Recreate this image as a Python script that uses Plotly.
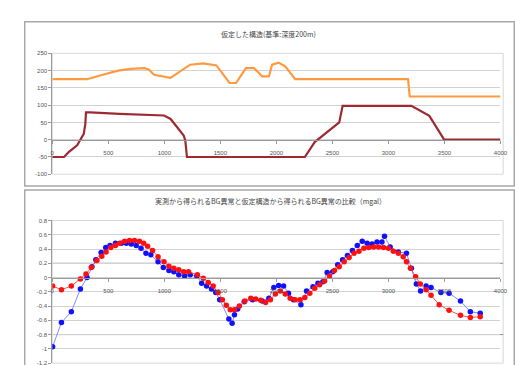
import plotly.graph_objects as go

W, H = 528, 365

# ---------------- top chart data (assumed structure) ----------------
upper_x = [0, 310, 450, 588, 700, 822, 860, 909, 1055, 1150, 1231, 1348, 1465, 1582, 1640,
           1728, 1801, 1874, 1933, 1962, 2020, 2079, 2167, 3175, 3190, 4000]
upper_y = [175, 175, 188, 200, 205, 207, 203, 188, 179, 200, 217, 221, 215, 164, 164,
           207, 207, 183, 183, 217, 223, 212, 175, 175, 125, 125]

lower_x = [0, 105, 149, 222, 281, 295, 301, 339, 600, 997, 1056, 1173, 1187, 1202,
           2254, 2342, 2561, 2591, 3205, 3365, 3497, 4000]
lower_y = [-50, -50, -35, -16, 17, 46, 79, 79, 75, 70, 60, 12, -2, -50,
           -50, -7, 50, 98, 98, 69, 0, 0]

top_yticks = [250, 200, 150, 100, 50, 0, -50, -100]
top_ylabels = ["250", "200", "150", "100", "50", "0", "-50", "-100"]
xticks = [0, 500, 1000, 1500, 2000, 2500, 3000, 3500, 4000]
xlabels = ["0", "500", "1000", "1500", "2000", "2500", "3000", "3500", "4000"]

# ---------------- bottom chart data (BG anomaly comparison) ----------------
obs_x = [3, 82, 170, 251, 310, 354, 389, 436, 477, 515, 564, 617, 661, 705, 749, 792, 836,
         880, 944, 991, 1041, 1085, 1129, 1181, 1231, 1290, 1333, 1377, 1421, 1459, 1494,
         1576, 1605, 1626, 1655, 1713, 1787, 1874, 1933, 1977, 2020, 2064, 2108, 2152,
         2219, 2269, 2327, 2371, 2415, 2453, 2503, 2547, 2591, 2634, 2678, 2722, 2766,
         2810, 2854, 2898, 2942, 2965, 3015, 3088, 3161, 3205, 3249, 3287, 3336, 3380,
         3468, 3541, 3643, 3731, 3819]
obs_y = [-0.97, -0.63, -0.48, -0.16, 0.00, 0.15, 0.25, 0.35, 0.42, 0.45, 0.48, 0.48, 0.48,
         0.47, 0.45, 0.41, 0.34, 0.32, 0.22, 0.14, 0.10, 0.08, 0.04, 0.02, 0.04, 0.02,
         -0.08, -0.12, -0.16, -0.21, -0.31, -0.58, -0.64, -0.52, -0.44, -0.34, -0.31,
         -0.33, -0.29, -0.14, -0.11, -0.12, -0.22, -0.31, -0.38, -0.19, -0.13, -0.08,
         -0.06, 0.07, 0.08, 0.18, 0.25, 0.31, 0.38, 0.45, 0.51, 0.48, 0.47, 0.50, 0.50,
         0.58, 0.43, 0.36, 0.34, 0.13, -0.09, -0.19, -0.12, -0.14, -0.21, -0.22, -0.33,
         -0.48, -0.50]

calc_x = [3, 82, 170, 251, 301, 348, 398, 442, 480, 523, 564, 602, 646, 690, 734, 778, 816,
          851, 895, 944, 997, 1041, 1085, 1129, 1173, 1216, 1295, 1348, 1392, 1436, 1480,
          1518, 1553, 1588, 1626, 1670, 1719, 1772, 1816, 1860, 1904, 1947, 1991, 2035,
          2079, 2123, 2167, 2211, 2254, 2298, 2342, 2386, 2430, 2474, 2518, 2561, 2605,
          2649, 2693, 2737, 2781, 2825, 2868, 2912, 2956, 3000, 3044, 3088, 3132, 3161,
          3196, 3243, 3284, 3336, 3380, 3453, 3541, 3643, 3731, 3819]
calc_y = [-0.12, -0.17, -0.12, -0.02, 0.05, 0.14, 0.24, 0.30, 0.36, 0.42, 0.45, 0.48, 0.51,
          0.52, 0.52, 0.51, 0.48, 0.44, 0.38, 0.29, 0.22, 0.16, 0.13, 0.11, 0.08, 0.08,
          0.04, -0.01, -0.07, -0.12, -0.21, -0.31, -0.39, -0.45, -0.45, -0.40, -0.33,
          -0.29, -0.30, -0.32, -0.35, -0.31, -0.23, -0.19, -0.23, -0.29, -0.31, -0.31,
          -0.28, -0.22, -0.15, -0.10, -0.05, 0.02, 0.10, 0.15, 0.22, 0.28, 0.34, 0.37,
          0.41, 0.42, 0.43, 0.43, 0.42, 0.41, 0.37, 0.34, 0.29, 0.22, 0.13, 0.01, -0.09,
          -0.17, -0.25, -0.38, -0.46, -0.53, -0.56, -0.55]

bot_yticks = [0.8, 0.6, 0.4, 0.2, 0, -0.2, -0.4, -0.6, -0.8, -1.0, -1.2]
bot_ylabels = ["0.8", "0.6", "0.4", "0.2", "0", "-0.2", "-0.4", "-0.6", "-0.8", "-1", "-1.2"]
dark_grid = [0.2, -0.8]

title_top = "仮定した構造(基準:深度200m)"
title_bot = "実測から得られるBG異常と仮定構造から得られるBG異常の比較（mgal）"

# ---------------- layout helpers ----------------
def px_x(p):
    return p / W

def px_y(p):
    return 1 - p / H

top_range = [-100, 250]
bot_range = [-1.2, 0.8]
xdom = [px_x(43), px_x(499)]
top_dom = [px_y(166), px_y(43)]
bot_dom = [px_y(358), px_y(213)]

def zero_pos(dom, rng):
    return dom[0] + (0 - rng[0]) / (rng[1] - rng[0]) * (dom[1] - dom[0])

tick_font = dict(family="Liberation Sans, Arial", size=6, color="#555555")
grid_c = "#d2d2d2"

fig = go.Figure()

fig.add_trace(go.Scatter(x=upper_x, y=upper_y, mode="lines",
                         line=dict(color="#ff9a40", width=2.2), xaxis="x", yaxis="y",
                         showlegend=False))
fig.add_trace(go.Scatter(x=lower_x, y=lower_y, mode="lines",
                         line=dict(color="#9e2a30", width=2.2), xaxis="x", yaxis="y",
                         showlegend=False))

fig.add_trace(go.Scatter(x=obs_x, y=obs_y, mode="lines+markers",
                         line=dict(color="#7f8cff", width=1),
                         marker=dict(color="#1010ff", size=5.5),
                         xaxis="x2", yaxis="y2", showlegend=False))
fig.add_trace(go.Scatter(x=calc_x, y=calc_y, mode="lines+markers",
                         line=dict(color="#ff5050", width=1),
                         marker=dict(color="#ff1010", size=5.5),
                         xaxis="x2", yaxis="y2", showlegend=False))

axis_common = dict(showgrid=False, zeroline=False, showline=True, linecolor="#9a9a9a",
                   linewidth=1, ticks="outside", ticklen=3, tickcolor="#9a9a9a",
                   tickfont=tick_font, tickvals=xticks, ticktext=xlabels,
                   ticklabelstandoff=4,
                   range=[0, 4000], domain=xdom, fixedrange=True)

fig.update_layout(
    width=W, height=H,
    margin=dict(l=0, r=0, t=0, b=0),
    paper_bgcolor="white", plot_bgcolor="white",
    xaxis=dict(**axis_common, anchor="free", position=zero_pos(top_dom, top_range)),
    yaxis=dict(domain=top_dom, range=top_range, tickvals=top_yticks, ticktext=top_ylabels,
               showgrid=True, gridcolor=grid_c, gridwidth=1, zeroline=False,
               showline=True, linecolor="#9a9a9a", ticks="outside", ticklen=3,
               tickcolor="#9a9a9a", tickfont=tick_font, anchor="x", fixedrange=True),
    xaxis2=dict(**axis_common, anchor="free", position=zero_pos(bot_dom, bot_range)),
    yaxis2=dict(domain=bot_dom, range=bot_range, tickvals=bot_yticks, ticktext=bot_ylabels,
                showgrid=True, gridcolor=grid_c, gridwidth=1, zeroline=False,
                showline=True, linecolor="#9a9a9a", ticks="outside", ticklen=3,
                tickcolor="#9a9a9a", tickfont=tick_font, anchor="x2", fixedrange=True),
)

shapes = []
# panel borders
shapes.append(dict(type="rect", xref="paper", yref="paper",
                   x0=px_x(15), x1=px_x(513), y0=px_y(178), y1=px_y(11),
                   line=dict(color="#a8a8a8", width=1.5), layer="below"))
shapes.append(dict(type="rect", xref="paper", yref="paper",
                   x0=px_x(15), x1=px_x(513), y0=-0.05, y1=px_y(182),
                   line=dict(color="#a8a8a8", width=1.5), layer="below"))
# plot-area boxes
for xr, yr in (("x domain", "y domain"), ("x2 domain", "y2 domain")):
    shapes.append(dict(type="rect", xref=xr, yref=yr, x0=0, x1=1.006, y0=0, y1=1,
                       line=dict(color="#d8d8d8", width=1), layer="below"))
# darker gridlines of the lower chart
for g in dark_grid:
    shapes.append(dict(type="line", xref="x2 domain", yref="y2", x0=0, x1=1.006, y0=g, y1=g,
                       line=dict(color="#8c8c8c", width=1), layer="below"))
fig.update_layout(shapes=shapes)

title_font = dict(family="Noto Sans CJK JP", size=7, color="#444444")
fig.add_annotation(text=title_top, xref="paper", yref="paper", x=px_x(263), y=px_y(23),
                   showarrow=False, font=title_font, xanchor="center", yanchor="middle")
fig.add_annotation(text=title_bot, xref="paper", yref="paper", x=px_x(265), y=px_y(193),
                   showarrow=False, font=title_font, xanchor="center", yanchor="middle")

fig.write_html("out.html")
